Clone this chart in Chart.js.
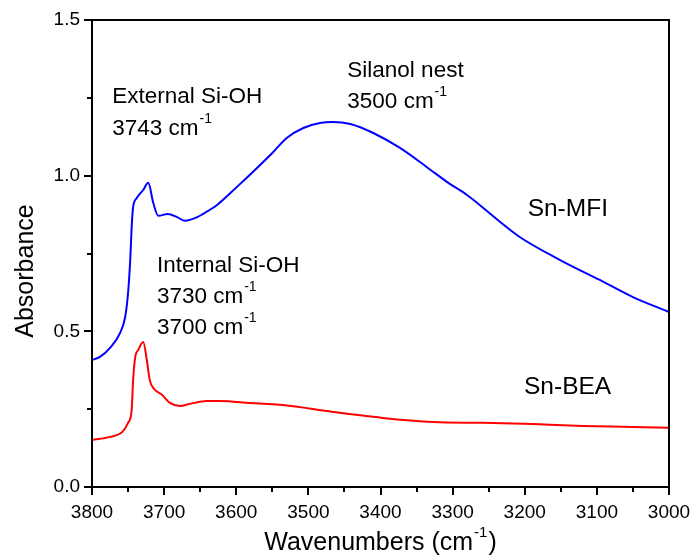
<!DOCTYPE html>
<html>
<head>
<meta charset="utf-8">
<script src="https://cdn.jsdelivr.net/npm/chart.js@4"></script>
<style>
  body { margin: 0; background: #fff; }
  canvas { display: block; }
</style>
</head>
<body>
<canvas id="chart" width="697" height="557"></canvas>
<script>
// Sn-MFI spectrum
var mfiWavenumber = [3800, 3789, 3775, 3761, 3754, 3750, 3747, 3745, 3743, 3738, 3729, 3722, 3715, 3708,
  3695, 3682, 3671, 3654, 3639, 3627, 3599, 3577, 3550, 3530, 3507, 3484, 3466, 3442, 3410, 3373,
  3336, 3306, 3280, 3234, 3207, 3151, 3096, 3050, 3000];
var mfiAbsorbance = [0.408, 0.418, 0.447, 0.495, 0.546, 0.623, 0.729, 0.835, 0.899, 0.928, 0.954, 0.977, 0.912, 0.871,
  0.877, 0.867, 0.855, 0.867, 0.887, 0.905, 0.964, 1.012, 1.073, 1.121, 1.153, 1.169, 1.172, 1.166, 1.137, 1.089,
  1.028, 0.977, 0.938, 0.851, 0.803, 0.729, 0.665, 0.610, 0.562];

// Sn-BEA spectrum
var beaWavenumber = [3800, 3775, 3758, 3750, 3745, 3743, 3740, 3736, 3729, 3724, 3720, 3715, 3703, 3692,
  3678, 3664, 3641, 3623, 3581, 3535, 3466, 3397, 3327, 3258, 3189, 3119, 3050, 3000];
var beaAbsorbance = [0.151, 0.161, 0.177, 0.206, 0.247, 0.344, 0.418, 0.440, 0.466, 0.408, 0.344, 0.318, 0.296, 0.270,
  0.260, 0.267, 0.276, 0.276, 0.270, 0.263, 0.241, 0.222, 0.209, 0.206, 0.202, 0.196, 0.193, 0.190];

var xTicks = [3800, 3700, 3600, 3500, 3400, 3300, 3200, 3100, 3000];
var yTicks = [0.0, 0.5, 1.0, 1.5];

// text notes: [text, superscript, wavenumber, absorbance, size]
var notes = [
  ['External Si-OH', '', 3772, 1.253, 22.5],
  ['3743 cm', '-1', 3772, 1.150, 22.5],
  ['Silanol nest', '', 3446, 1.336, 22.5],
  ['3500 cm', '-1', 3446, 1.237, 22.5],
  ['Internal Si-OH', '', 3710, 0.710, 22.5],
  ['3730 cm', '-1', 3710, 0.611, 22.5],
  ['3700 cm', '-1', 3710, 0.511, 22.5],
  ['Sn-MFI', '', 3196, 0.893, 24.5],
  ['Sn-BEA', '', 3201, 0.322, 24.5]
];

function toPoints(xs, ys) {
  return xs.map(function (x, i) { return { x: x, y: ys[i] }; });
}

var FONT = '"Liberation Sans", Arial, sans-serif';

function drawSup(ctx, text, sup, x, y, size) {
  ctx.font = size + 'px ' + FONT;
  ctx.textBaseline = 'middle';
  ctx.fillText(text, x, y);
  if (sup) {
    var w = ctx.measureText(text).width;
    ctx.font = Math.round(size * 0.6) + 'px ' + FONT;
    ctx.fillText(sup, x + w + 1, y - size * 0.42);
  }
}

var decor = {
  id: 'decor',
  afterDraw: function (chart) {
    var ctx = chart.ctx;
    var a = chart.chartArea;
    var xs = chart.scales.x, ys = chart.scales.y;
    ctx.save();
    ctx.strokeStyle = '#000';
    ctx.fillStyle = '#000';
    ctx.lineWidth = 2;
    ctx.strokeRect(a.left, a.top, a.right - a.left, a.bottom - a.top);

    ctx.beginPath();
    for (var v = 3000; v <= 3800; v += 50) {
      var px = Math.round(xs.getPixelForValue(v));
      var len = (v % 100 === 0) ? 8 : 5;
      ctx.moveTo(px, a.bottom);
      ctx.lineTo(px, a.bottom + len);
    }
    for (var k = 0; k <= 6; k++) {
      var py = Math.round(ys.getPixelForValue(k * 0.25));
      var l2 = (k % 2 === 0) ? 8 : 5;
      ctx.moveTo(a.left, py);
      ctx.lineTo(a.left - l2, py);
    }
    ctx.stroke();

    ctx.textAlign = 'left';
    notes.forEach(function (n) {
      drawSup(ctx, n[0], n[1], xs.getPixelForValue(n[2]), ys.getPixelForValue(n[3]), n[4]);
    });

    // x axis title
    var size = 25;
    ctx.font = size + 'px ' + FONT;
    var t1 = 'Wavenumbers (cm', t2 = '-1', t3 = ')';
    var w1 = ctx.measureText(t1).width, w3 = ctx.measureText(t3).width;
    ctx.font = Math.round(size * 0.6) + 'px ' + FONT;
    var w2 = ctx.measureText(t2).width;
    var total = w1 + w2 + 2 + w3;
    var cx = (a.left + a.right) / 2;
    var x0 = cx - total / 2, y0 = 543;
    ctx.textBaseline = 'middle';
    ctx.font = size + 'px ' + FONT;
    ctx.fillText(t1, x0, y0);
    ctx.fillText(t3, x0 + w1 + w2 + 2, y0);
    ctx.font = Math.round(size * 0.6) + 'px ' + FONT;
    ctx.fillText(t2, x0 + w1 + 1, y0 - size * 0.42);

    // y axis title
    ctx.translate(26, 271);
    ctx.rotate(-Math.PI / 2);
    ctx.textAlign = 'center';
    ctx.font = size + 'px ' + FONT;
    ctx.fillText('Absorbance', 0, 0);
    ctx.restore();
  }
};

var chart = new Chart('chart', {
  type: 'scatter',
  data: {
    datasets: [{
      label: 'Sn-MFI',
      data: toPoints(mfiWavenumber, mfiAbsorbance),
      borderColor: '#0000ff',
      borderWidth: 2,
      pointRadius: 0,
      showLine: true,
      cubicInterpolationMode: 'monotone'
    }, {
      label: 'Sn-BEA',
      data: toPoints(beaWavenumber, beaAbsorbance),
      borderColor: '#ff0000',
      borderWidth: 2,
      pointRadius: 0,
      showLine: true,
      cubicInterpolationMode: 'monotone'
    }]
  },
  options: {
    responsive: false,
    animation: false,
    layout: { padding: { top: 20, right: 28, left: 0, bottom: 0 } },
    plugins: { legend: { display: false }, tooltip: { enabled: false } },
    scales: {
      x: {
        type: 'linear',
        min: 3000,
        max: 3800,
        reverse: true,
        grid: { display: false, drawTicks: false },
        border: { display: false },
        afterBuildTicks: function (s) { s.ticks = xTicks.map(function (v) { return { value: v }; }); },
        afterFit: function (s) { s.height = 70; s.paddingLeft = 0; s.paddingRight = 0; },
        ticks: {
          padding: 14,
          color: '#000',
          maxRotation: 0,
          autoSkip: false,
          font: { family: FONT, size: 19 },
          callback: function (v) { return String(v); }
        }
      },
      y: {
        min: 0,
        max: 1.5,
        grid: { display: false, drawTicks: false },
        border: { display: false },
        afterBuildTicks: function (s) { s.ticks = yTicks.map(function (v) { return { value: v }; }); },
        afterFit: function (s) { s.width = 92; s.paddingTop = 0; s.paddingBottom = 0; },
        ticks: {
          padding: 12,
          color: '#000',
          font: { family: FONT, size: 19 },
          callback: function (v) { return v.toFixed(1); }
        }
      }
    }
  },
  plugins: [decor]
});
</script>
</body>
</html>
